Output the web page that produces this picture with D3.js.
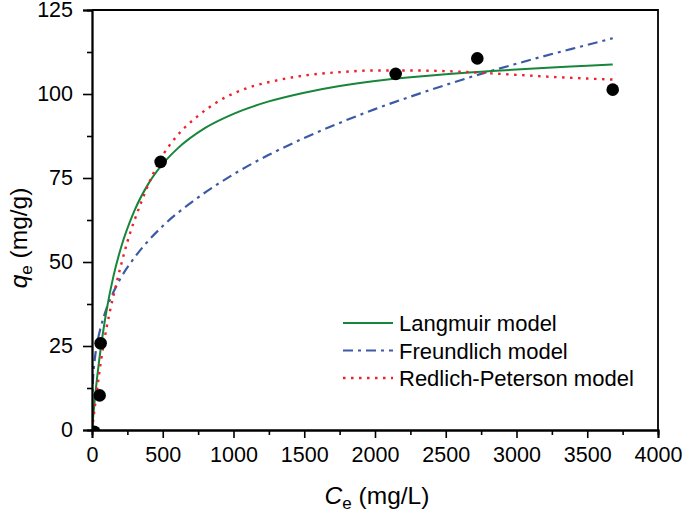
<!DOCTYPE html>
<html><head><meta charset="utf-8">
<script src="https://cdn.jsdelivr.net/npm/d3@7"></script>
<style>body{margin:0;background:#fff}svg{display:block}text{font-family:"Liberation Sans",Arial,sans-serif}</style>
</head><body><svg id="c" width="685" height="517"></svg>
<script>
// Experimental data (Ce, qe)
const expC = [15, 54, 61, 485, 2146, 2723, 3680];
const expQ = [-0.5, 10.3, 25.8, 79.8, 106.0, 110.6, 101.3];
// Langmuir model curve
const langC = [0, 10, 25, 50, 75, 100, 150, 200, 300, 400, 500, 600, 800, 1000, 1250, 1500, 1750, 2000, 2250, 2500, 2750, 3000, 3250, 3500, 3680];
const langQ = [0, 4.8, 11.3, 20.5, 28.2, 34.9, 45.5, 53.6, 65.3, 73.4, 79.2, 83.6, 89.9, 94.1, 97.8, 100.4, 102.4, 103.9, 105.0, 105.9, 106.6, 107.3, 107.9, 108.4, 108.8];
// Freundlich model curve
const freuC = [0, 1, 2, 5, 10, 20, 40, 60, 100, 150, 200, 300, 400, 500, 750, 1000, 1250, 1500, 1750, 2000, 2250, 2500, 2750, 3000, 3250, 3500, 3680];
const freuQ = [0, 7.9, 10.0, 13.5, 16.9, 21.2, 26.6, 30.3, 35.8, 40.9, 45.0, 51.3, 56.4, 60.7, 69.2, 76.1, 81.9, 86.9, 91.4, 95.5, 99.2, 102.7, 106.0, 109.0, 111.9, 114.6, 116.6];
// Redlich-Peterson model curve
const rpC = [0, 10, 25, 50, 80, 125, 175, 250, 350, 480, 600, 750, 900, 1100, 1300, 1500, 1750, 2000, 2250, 2500, 2750, 3000, 3250, 3500, 3680];
const rpQ = [0, 3.4, 8.5, 16.5, 25.0, 35.0, 44.0, 56.0, 68.0, 80.3, 87.5, 93.5, 98.0, 101.8, 104.0, 105.5, 106.5, 107.0, 107.0, 106.8, 106.3, 105.7, 105.1, 104.6, 104.3];
const xTicks = [0, 500, 1000, 1500, 2000, 2500, 3000, 3500, 4000];
const yTicks = [0, 25, 50, 75, 100, 125];
const legendLabels = ["Langmuir model", "Freundlich model", "Redlich-Peterson model"];

const svg = d3.select("#c");
const L = 92, R = 658, T = 10, B = 430;
const x = d3.scaleLinear().domain([0, 4000]).range([L, R]);
const y = d3.scaleLinear().domain([0, 125]).range([B, T]);

svg.append("defs").append("clipPath").attr("id", "clip")
  .append("rect").attr("x", L).attr("y", T).attr("width", R - L).attr("height", B - T);

const green = "#17863a", blue = "#3b5aa6", red = "#f0202a";
const line = d3.line().x(d => x(d[0])).y(d => y(d[1])).curve(d3.curveMonotoneX);
const plot = svg.append("g").attr("clip-path", "url(#clip)");

plot.append("path").datum(d3.zip(freuC, freuQ)).attr("d", line)
  .attr("fill", "none").attr("stroke", blue).attr("stroke-width", 2.2).attr("stroke-dasharray", "10,5,3,5");
plot.append("path").datum(d3.zip(langC, langQ)).attr("d", line)
  .attr("fill", "none").attr("stroke", green).attr("stroke-width", 2);
plot.append("path").datum(d3.zip(rpC, rpQ)).attr("d", line)
  .attr("fill", "none").attr("stroke", red).attr("stroke-width", 2.4).attr("stroke-dasharray", "2.5,5.5");

plot.selectAll("circle").data(d3.zip(expC, expQ)).join("circle")
  .attr("cx", d => x(d[0])).attr("cy", d => y(d[1])).attr("r", 6.3).attr("fill", "#000");

// frame
svg.append("path").attr("d", `M${L},${T}H${R}V${B}`).attr("fill", "none").attr("stroke", "#000").attr("stroke-width", 1.8);

// axes
const xMinor = d3.range(250, 4000, 500);
const yMinor = d3.range(12.5, 125, 25);
const xa = svg.append("g").attr("transform", `translate(0,${B})`);
xa.call(d3.axisBottom(x).tickValues(xTicks).tickSize(8).tickPadding(9).tickFormat(d3.format("d")));
xa.append("g").call(d3.axisBottom(x).tickValues(xMinor).tickSize(5).tickFormat(""));
const ya = svg.append("g").attr("transform", `translate(${L},0)`);
ya.call(d3.axisLeft(y).tickValues(yTicks).tickSize(9).tickPadding(10).tickFormat(d3.format("d")));
ya.append("g").call(d3.axisLeft(y).tickValues(yMinor).tickSize(5).tickFormat(""));
svg.selectAll(".domain").attr("stroke", "#000").attr("stroke-width", 1.8);
svg.selectAll(".tick line").attr("stroke", "#000").attr("stroke-width", 1.6);
svg.selectAll(".tick text").attr("font-size", 21.5).attr("fill", "#000").style("font-family", '"Liberation Sans",Arial,sans-serif');

// axis titles
const xt = svg.append("text").attr("x", 377).attr("y", 504).attr("text-anchor", "middle").attr("font-size", 24.5);
xt.append("tspan").attr("font-style", "italic").text("C");
xt.append("tspan").attr("font-size", 17).attr("dy", 5).text("e");
xt.append("tspan").attr("dy", -5).text(" (mg/L)");

const yt = svg.append("text").attr("transform", "translate(27,238) rotate(-90)").attr("text-anchor", "middle").attr("font-size", 24.5);
yt.append("tspan").attr("font-style", "italic").text("q");
yt.append("tspan").attr("font-size", 17).attr("dy", 5).text("e");
yt.append("tspan").attr("dy", -5).text(" (mg/g)");

// legend
const styles = [
  {c: green, w: 2, da: null},
  {c: blue, w: 2.2, da: "10,5,3,5"},
  {c: red, w: 2.4, da: "2.5,5.5"}
];
const lg = svg.append("g");
legendLabels.forEach((lab, i) => {
  const yy = 323 + i * 27.5;
  lg.append("line").attr("x1", 343).attr("x2", 393).attr("y1", yy).attr("y2", yy)
    .attr("stroke", styles[i].c).attr("stroke-width", styles[i].w).attr("stroke-dasharray", styles[i].da);
  lg.append("text").attr("x", 399).attr("y", yy + 8).attr("font-size", 22).text(lab);
});
</script></body></html>
